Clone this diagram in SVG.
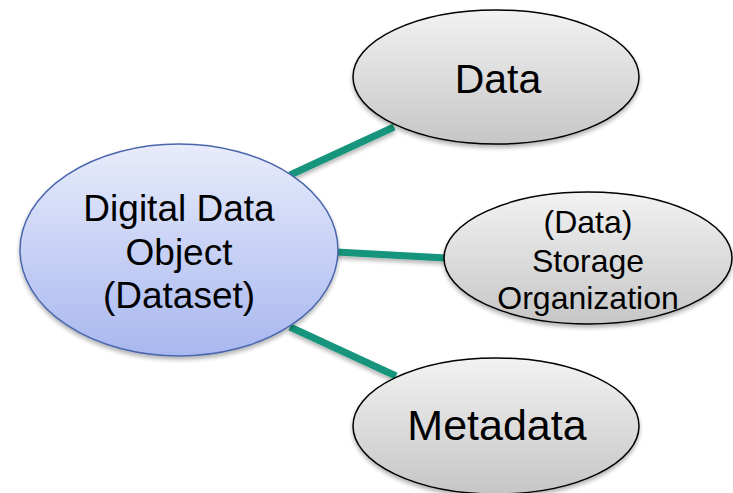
<svg xmlns="http://www.w3.org/2000/svg" width="733" height="493" viewBox="0 0 733 493">
<defs>
<linearGradient id="gBlue" x1="0" y1="0" x2="0" y2="1">
<stop offset="0" stop-color="#e8ecfb"/>
<stop offset="1" stop-color="#a8b7ef"/>
</linearGradient>
<linearGradient id="gGray" x1="0" y1="0" x2="0" y2="1">
<stop offset="0" stop-color="#f2f2f2"/>
<stop offset="1" stop-color="#c6c6c6"/>
</linearGradient>
<filter id="sh" x="-10%" y="-10%" width="120%" height="130%">
<feGaussianBlur in="SourceAlpha" stdDeviation="2"/>
<feOffset dx="0" dy="3" result="b"/>
<feComponentTransfer><feFuncA type="linear" slope="0.3"/></feComponentTransfer>
<feMerge><feMergeNode/><feMergeNode in="SourceGraphic"/></feMerge>
</filter>
</defs>
<style>
.conn{stroke:#12957c;stroke-width:7;fill:none}
.blue{fill:url(#gBlue);stroke:#4a66ac;stroke-width:1.5}
.gray{fill:url(#gGray);stroke:#000;stroke-width:1.5}
text{font-family:"Liberation Sans",Arial,sans-serif;fill:#000;text-anchor:middle}
</style>
<rect width="733" height="493" fill="#fff"/>
<g id="connectors" filter="url(#sh)">
<line class="conn" x1="290" y1="175" x2="394" y2="127"/>
<line class="conn" x1="336" y1="252" x2="446" y2="258"/>
<line class="conn" x1="290" y1="327" x2="396" y2="376"/>
</g>
<g id="dataset">
<ellipse class="blue" cx="179" cy="250" rx="159" ry="106" filter="url(#sh)"/>
<text x="179" y="221" font-size="37">Digital Data</text>
<text x="179" y="265" font-size="37">Object</text>
<text x="179" y="308" font-size="37">(Dataset)</text>
</g>
<g id="data">
<ellipse class="gray" cx="496" cy="77" rx="143" ry="67" filter="url(#sh)"/>
<text x="498" y="93" font-size="41">Data</text>
</g>
<g id="storage">
<ellipse class="gray" cx="588" cy="258" rx="144" ry="66" filter="url(#sh)"/>
<text x="588" y="233" font-size="32">(Data)</text>
<text x="588" y="272" font-size="32">Storage</text>
<text x="588" y="309" font-size="32">Organization</text>
</g>
<g id="metadata">
<ellipse class="gray" cx="496" cy="426" rx="143" ry="68" filter="url(#sh)"/>
<text x="497" y="440" font-size="43">Metadata</text>
</g>
</svg>
